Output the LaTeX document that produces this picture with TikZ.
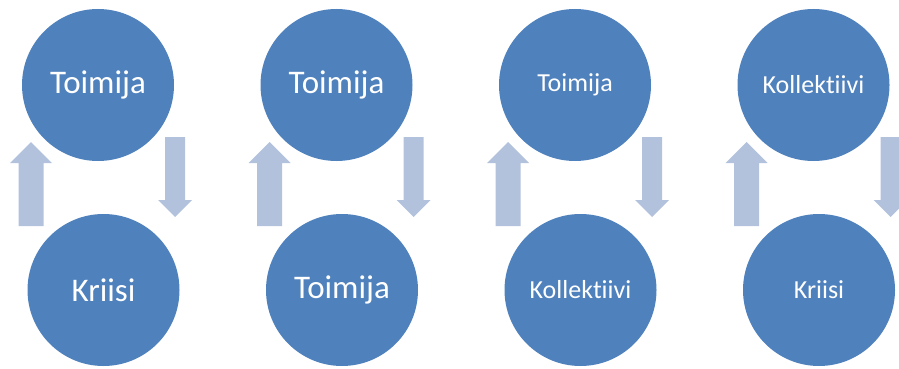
\documentclass[tikz,border=0pt]{standalone}
\usepackage{fontspec}
\setmainfont{Carlito}[Ligatures={NoCommon}]
\definecolor{circblue}{HTML}{4F81BD}
\definecolor{arrblue}{HTML}{B3C2DC}
\begin{document}
\begin{tikzpicture}[x=1pt,y=-1pt,
  circ/.style={circle,fill=circblue,minimum size=152pt,inner sep=0pt,text=white},
  big/.style={font=\fontsize{33}{36}\selectfont},
  small/.style={font=\fontsize{26}{30}\selectfont},
  uparr/.pic={\fill[arrblue] (-12.5,226)--(-12.5,163)--(-21,163)--(0,142)--(21,163)--(12.5,163)--(12.5,226)--cycle;},
  downarr/.pic={\fill[arrblue] (-10,137)--(10,137)--(10,200)--(17,200)--(0,217)--(-17,200)--(-10,200)--cycle;}]
\useasboundingbox (0,0) rectangle (899,369);
\node[circ,big]   (t1) at (98,85)    {Toimija};
\node[circ,big]   (b1) at (103.5,290) {Kriisi};
\node[circ,big]   (t2) at (336.5,85) {Toimija};
\node[circ,big]   (b2) at (342,290)  {Toimija};
\node[circ,small] (t3) at (575,85)   {Toimija};
\node[circ,small] (b3) at (580.5,290) {Kollektiivi};
\node[circ,small] (t4) at (813.5,85) {Kollektiivi};
\node[circ,small] (b4) at (819,290)  {Kriisi};
\foreach \k in {0,1,2,3}{
  \pic at ({31+238.5*\k},0) {uparr};
  \pic at ({175+238.5*\k},0) {downarr};
}
\end{tikzpicture}
\end{document}
